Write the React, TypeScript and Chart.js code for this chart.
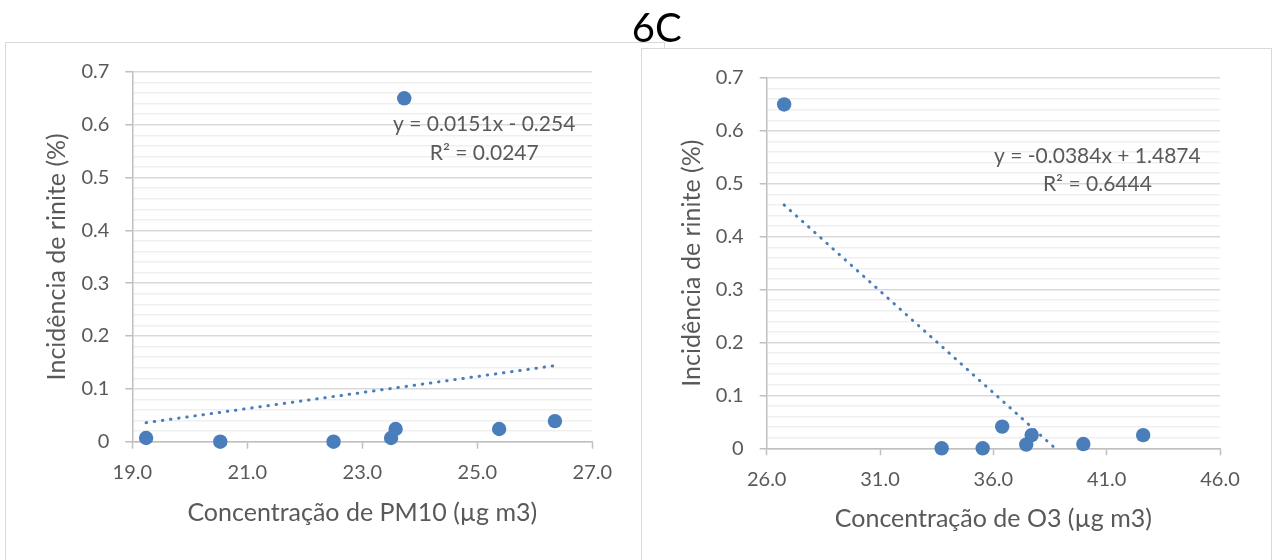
import React, { useEffect, useRef } from "react";
import { Chart, registerables } from "chart.js";

Chart.register(...registerables);

// ---- data ----
const pm10X = [19.24, 20.53, 22.5, 23.5, 23.58, 23.73, 25.38, 26.35];
const pm10Y = [0.007, 0, 0, 0.007, 0.024, 0.65, 0.024, 0.039];
const pm10TrendX = [19.24, 26.35];
const pm10TrendY = [0.036, 0.144];

const o3X = [26.77, 33.72, 35.53, 36.39, 37.45, 37.69, 39.97, 42.61];
const o3Y = [0.65, 0, 0, 0.041, 0.007, 0.025, 0.008, 0.025];
const o3TrendX = [26.77, 38.73];
const o3TrendY = [0.46, 0];

const pm10Equation = ["y = 0.0151x - 0.254", "R² = 0.0247"];
const o3Equation = ["y = -0.0384x + 1.4874", "R² = 0.6444"];

const yTitle = "Incidência de rinite (%)";
const pm10XTitle = "Concentração de PM10 (µg m3)";
const o3XTitle = "Concentração de O3 (µg m3)";
const figureTitle = "6C";

// ---- styling ----
const FONT = "Lato, 'Open Sans', sans-serif";
const TEXT = "#595959";
const BLUE = "#4a7ebb";
const AXIS = "#bfbfbf";
const MAJOR = "#d9d9d9";
const MINOR = "#efefef";

const isMajor = (v: number) => Math.abs(v * 10 - Math.round(v * 10)) < 1e-6;

const eqPlugin = {
  id: "eqLabel",
  afterDatasetsDraw(chart: any, _args: any, opts: any) {
    if (!opts || !opts.lines) return;
    const { ctx, scales } = chart;
    ctx.save();
    ctx.font = `${opts.size}px ${FONT}`;
    ctx.fillStyle = TEXT;
    ctx.textAlign = "center";
    ctx.textBaseline = "middle";
    opts.lines.forEach((l: any) => {
      ctx.fillText(l.text, scales.x.getPixelForValue(l.x), scales.y.getPixelForValue(l.y));
    });
    ctx.restore();
  },
};

type Panel = {
  xs: number[];
  ys: number[];
  tx: number[];
  ty: number[];
  xMin: number;
  xMax: number;
  xStep: number;
  xTitle: string;
  eq: string[];
  eqX: number;
  eqY: number[];
  area: { left: number; top: number; right: number; bottom: number };
  yTitlePad: number;
  xTitlePad: number;
};

function ScatterPanel({ p, left }: { p: Panel; left: number }) {
  const ref = useRef<HTMLCanvasElement | null>(null);
  useEffect(() => {
    const W = 640;
    const H = 560;
    const pts = p.xs.map((x, i) => ({ x, y: p.ys[i] }));
    const trend = p.tx.map((x, i) => ({ x, y: p.ty[i] }));
    const chart = new Chart(ref.current as HTMLCanvasElement, {
      type: "scatter",
      data: {
        datasets: [
          {
            data: trend,
            showLine: true,
            borderColor: BLUE,
            borderWidth: 3,
            borderDash: [0.5, 7.7],
            borderCapStyle: "round",
            pointRadius: 0,
            clip: false,
            order: 1,
          } as any,
          {
            data: pts,
            backgroundColor: BLUE,
            borderColor: BLUE,
            borderWidth: 0,
            pointRadius: 7.2,
            clip: false,
            order: 2,
          } as any,
        ],
      },
      options: {
        animation: false,
        responsive: false,
        devicePixelRatio: 1,
        layout: {
          padding: { left: 0, top: p.area.top, right: W - p.area.right, bottom: 0 },
        },
        plugins: {
          legend: { display: false },
          tooltip: { enabled: false },
          eqLabel: {
            size: 21,
            lines: [
              { text: p.eq[0], x: p.eqX, y: p.eqY[0] },
              { text: p.eq[1], x: p.eqX, y: p.eqY[1] },
            ],
          },
        } as any,
        scales: {
          x: {
            type: "linear",
            min: p.xMin,
            max: p.xMax,
            afterFit: (s: any) => {
              s.height = H - p.area.bottom;
            },
            ticks: {
              stepSize: p.xStep,
              color: TEXT,
              font: { family: FONT, size: 20 },
              padding: 12,
              maxRotation: 0,
              callback: (v: any) => Number(v).toFixed(1),
            },
            grid: {
              drawOnChartArea: false,
              drawTicks: true,
              tickLength: 7,
              tickColor: AXIS,
              tickWidth: 1.5,
            },
            border: { display: true, color: AXIS, width: 1.5 },
            title: {
              display: true,
              text: p.xTitle,
              color: TEXT,
              font: { family: FONT, size: 25 },
              padding: { top: 0, bottom: p.xTitlePad },
            },
          },
          y: {
            type: "linear",
            min: 0,
            max: 0.7,
            afterFit: (s: any) => {
              s.width = p.area.left;
            },
            ticks: {
              stepSize: 0.02,
              autoSkip: false,
              color: TEXT,
              font: { family: FONT, size: 20 },
              padding: 16,
              callback: (v: any) => {
                const n = Number(v);
                if (!isMajor(n)) return "";
                return Math.abs(n) < 1e-9 ? "0" : n.toFixed(1);
              },
            },
            grid: {
              lineWidth: 1.5,
              color: (c: any) => (c.tick && isMajor(c.tick.value) ? MAJOR : MINOR),
              tickColor: (c: any) =>
                c.tick && isMajor(c.tick.value) ? AXIS : "rgba(0,0,0,0)",
              tickLength: 7,
              tickWidth: 1.5,
            },
            border: { display: true, color: AXIS, width: 1.5 },
            title: {
              display: true,
              text: yTitle,
              color: TEXT,
              font: { family: FONT, size: 25 },
              padding: { top: p.yTitlePad, bottom: 0 },
            },
          },
        },
      } as any,
      plugins: [eqPlugin],
    });
    return () => chart.destroy();
  }, [p]);
  return (
    <canvas
      ref={ref}
      width={640}
      height={560}
      style={{ position: "absolute", left, top: 0, width: 640, height: 560 }}
    />
  );
}

const leftPanel: Panel = {
  xs: pm10X,
  ys: pm10Y,
  tx: pm10TrendX,
  ty: pm10TrendY,
  xMin: 19,
  xMax: 27,
  xStep: 2,
  xTitle: pm10XTitle,
  eq: pm10Equation,
  eqX: 25.12,
  eqY: [0.6, 0.546],
  area: { left: 132.3, top: 71.9, right: 592.3, bottom: 441.7 },
  yTitlePad: 42,
  xTitlePad: 31.6,
};

const rightPanel: Panel = {
  xs: o3X,
  ys: o3Y,
  tx: o3TrendX,
  ty: o3TrendY,
  xMin: 26,
  xMax: 46,
  xStep: 5,
  xTitle: o3XTitle,
  eq: o3Equation,
  eqX: 40.59,
  eqY: [0.553, 0.499],
  area: { left: 126.7, top: 78, right: 580, bottom: 448.3 },
  yTitlePad: 37.2,
  xTitlePad: 26.5,
};

export default function App() {
  return (
    <div
      style={{
        position: "fixed",
        left: 0,
        top: 0,
        width: 1280,
        height: 560,
        overflow: "hidden",
        background: "#ffffff",
      }}
    >
      <div
        style={{
          position: "absolute",
          left: 4.5,
          top: 42,
          width: 660,
          height: 600,
          border: "1.5px solid #d9d9d9",
          boxSizing: "border-box",
          background: "#ffffff",
        }}
      />
      <ScatterPanel p={leftPanel} left={0} />
      <div
        style={{
          position: "absolute",
          left: 640.5,
          top: 48,
          width: 631,
          height: 600,
          border: "1.5px solid #d9d9d9",
          boxSizing: "border-box",
          background: "#ffffff",
        }}
      />
      <ScatterPanel p={rightPanel} left={640} />
      <div
        style={{
          position: "absolute",
          left: 456.7,
          top: 7,
          width: 400,
          textAlign: "center",
          fontFamily: FONT,
          fontSize: 40,
          lineHeight: "40px",
          color: "#000000",
        }}
      >
        {figureTitle}
      </div>
    </div>
  );
}
